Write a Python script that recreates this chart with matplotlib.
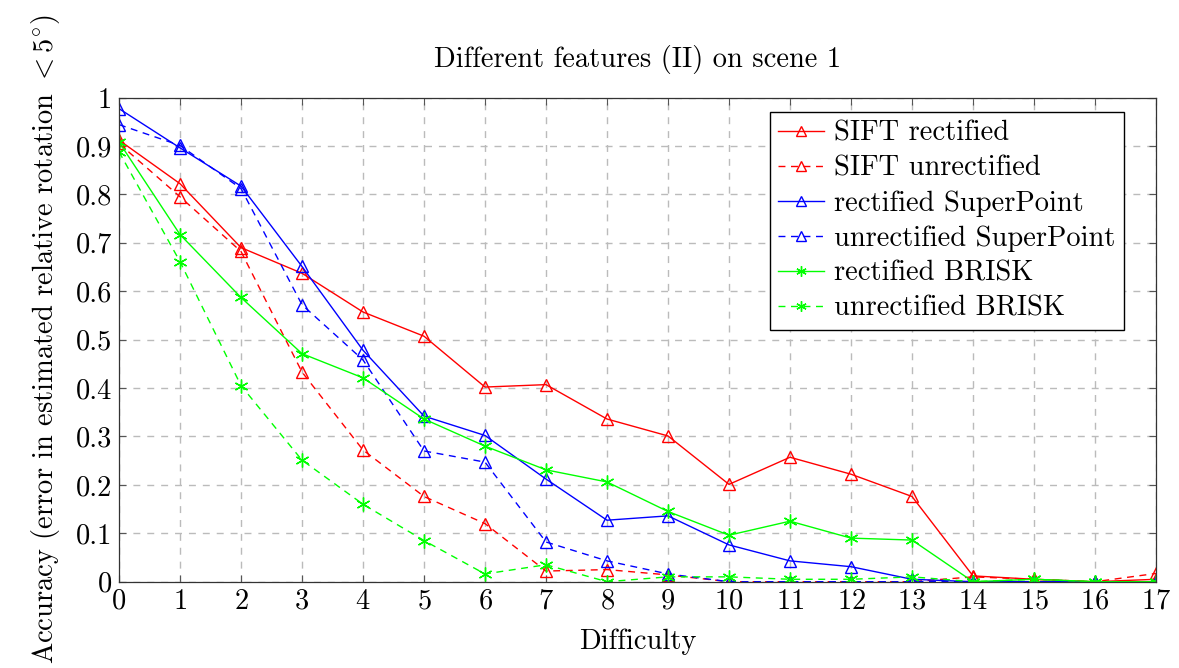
import matplotlib
matplotlib.use("Agg")
import matplotlib.pyplot as plt

plt.rcParams['font.family'] = 'cmr10'
plt.rcParams['mathtext.fontset'] = 'cm'
plt.rcParams['axes.formatter.use_mathtext'] = True

difficulty = list(range(18))

sift_rect = [0.912, 0.822, 0.69, 0.637, 0.557, 0.507, 0.402, 0.407, 0.336, 0.301,
             0.201, 0.257, 0.222, 0.176, 0.012, 0.005, 0.0, 0.005]
sift_unrect = [0.905, 0.795, 0.682, 0.433, 0.272, 0.176, 0.12, 0.022, 0.025, 0.014,
               0.0, 0.0, 0.0, 0.0, 0.01, 0.005, 0.0, 0.017]
sp_rect = [0.977, 0.896, 0.817, 0.651, 0.478, 0.342, 0.302, 0.212, 0.127, 0.136,
           0.076, 0.043, 0.031, 0.005, 0.0, 0.0, 0.0, 0.0]
sp_unrect = [0.944, 0.901, 0.812, 0.572, 0.458, 0.27, 0.247, 0.082, 0.043, 0.016,
             0.0, 0.0, 0.0, 0.0, 0.0, 0.0, 0.0, 0.0]
brisk_rect = [0.908, 0.717, 0.587, 0.471, 0.421, 0.336, 0.28, 0.231, 0.206, 0.145,
              0.096, 0.125, 0.09, 0.086, 0.0, 0.005, 0.0, 0.0]
brisk_unrect = [0.888, 0.661, 0.405, 0.251, 0.16, 0.085, 0.016, 0.035, 0.0, 0.01,
                0.01, 0.005, 0.005, 0.01, 0.0, 0.005, 0.0, 0.0]

series = [
    ("SIFT rectified", sift_rect, 'red', '-', '^'),
    ("SIFT unrectified", sift_unrect, 'red', '--', '^'),
    ("rectified SuperPoint", sp_rect, 'blue', '-', '^'),
    ("unrectified SuperPoint", sp_unrect, 'blue', '--', '^'),
    ("rectified BRISK", brisk_rect, '#00ff00', '-', (6, 2, 0)),
    ("unrectified BRISK", brisk_unrect, '#00ff00', '--', (6, 2, 0)),
]

FS = 20.5

fig = plt.figure(figsize=(11.79, 6.68), dpi=100)
ax = fig.add_axes([119 / 1179, 1 - 581.7 / 668, (1156 - 119) / 1179, (581.7 - 97.5) / 668])

for label, vals, col, ls, mk in series:
    dash = (0, (5, 4)) if ls == '--' else '-'
    ax.plot(difficulty, vals, color=col, linestyle=dash, linewidth=1.0,
            marker=mk, markersize=9 if mk == '^' else 10, markerfacecolor='none',
            markeredgecolor=col, markeredgewidth=1.0, label=label)

ax.set_xlim(0, 17)
ax.set_ylim(0, 1)
ax.set_xticks(difficulty)
ax.set_yticks([i / 10 for i in range(11)])
ax.set_yticklabels(['0'] + ['0.%d' % i for i in range(1, 10)] + ['1'])
ax.tick_params(direction='in', top=True, right=True, length=5, width=0.8,
               labelsize=FS, color='#555555', pad=5)
ax.grid(True, color='#bbbbbb', linestyle=(0, (5, 5)), linewidth=1.0)
ax.set_axisbelow(True)
for sp in ax.spines.values():
    sp.set_linewidth(0.9)
    sp.set_color('#333333')

ax.set_title('Different features (II) on scene 1', fontsize=FS, pad=22)
ax.set_xlabel('Difficulty', fontsize=FS, labelpad=10)
ax.set_ylabel(r'Accuracy (error in estimated relative rotation $< 5^{\circ}$)',
              fontsize=FS, labelpad=10)

leg = ax.legend(loc='upper right', bbox_to_anchor=(0.969, 0.97), fontsize=FS,
                frameon=True, fancybox=False, edgecolor='black', framealpha=1,
                handlelength=1.6, handletextpad=0.35, borderpad=0.3,
                labelspacing=0.3, borderaxespad=0, numpoints=1,
                markerscale=0.75)
leg.get_frame().set_linewidth(1.0)

fig.savefig('out.png', dpi=100)
